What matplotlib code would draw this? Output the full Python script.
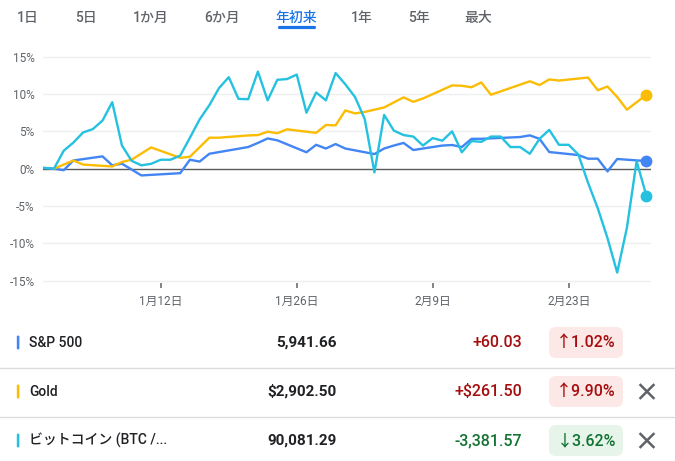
import matplotlib
matplotlib.use("Agg")
import matplotlib.pyplot as plt
from matplotlib.patches import FancyBboxPatch

# data (% change since start, x = days after Dec 31)
spx_days = [0, 1, 2, 3, 6, 7, 8, 10, 14, 15, 16, 17, 21, 22, 23, 24, 27, 28, 29, 30, 31,
            34, 35, 36, 37, 38, 41, 42, 43, 44, 45, 49, 50, 51, 52, 55, 56, 57, 58, 59, 62]
spx = [0.1, 0, -0.2, 1.1, 1.65, 0.45, 0.67, -0.9, -0.6, 1.2, 0.95, 2.0, 2.9, 3.45, 4.05, 3.8,
       2.2, 3.2, 2.7, 3.3, 2.7, 1.96, 2.7, 3.1, 3.45, 2.5, 3.1, 3.17, 2.9, 4.0, 4.0, 4.24, 4.46,
       4.0, 2.23, 1.83, 1.34, 1.34, -0.36, 1.3, 1.02]

gold_days = [1, 3, 4, 7, 8, 9, 11, 14, 15, 17, 18, 21, 22, 23, 24, 25, 28, 29, 30, 31, 32, 33,
             35, 37, 38, 39, 42, 43, 44, 45, 46, 50, 51, 52, 53, 56, 57, 58, 59, 60, 62]
gold = [0, 1.1, 0.55, 0.3, 0.9, 1.2, 2.85, 1.45, 1.6, 4.15, 4.15, 4.45, 4.5, 4.95, 4.75, 5.27,
        4.8, 5.85, 5.8, 7.8, 7.4, 7.6, 8.2, 9.55, 8.95, 9.4, 11.15, 11.1, 10.9, 11.55, 9.9,
        11.7, 11.2, 11.95, 11.8, 12.2, 10.5, 11.0, 9.6, 7.9, 9.9]

btc = [0.1, 0.0, 2.4, 3.5, 4.85, 5.3, 6.45, 8.9, 3.1, 1.05, 0.45, 0.65, 1.2, 1.2, 1.75, 4.15,
       6.6, 8.5, 10.8, 12.25, 9.35, 9.3, 13.0, 9.15, 11.9, 12.0, 12.6, 7.5, 10.2, 9.15, 12.8,
       11.3, 9.6, 6.65, -0.5, 7.2, 5.1, 4.5, 4.3, 3.1, 4.1, 3.75, 5.0, 2.2, 3.7, 3.6, 4.3, 4.3,
       2.9, 2.9, 2.0, 4.0, 5.2, 3.2, 3.2, 1.9, -1.9, -5.3, -9.3, -13.9, -7.9, 1.0, -3.6]
btc_days = list(range(len(btc)))

tick_days = [12, 26, 40, 54]
tick_labels = ["1月12日", "1月26日", "2月9日", "2月23日"]
yticks = [-15, -10, -5, 0, 5, 10, 15]

tabs = ["1日", "5日", "1か月", "6か月", "年初来", "1年", "5年", "最大"]
tab_x = [28, 85.5, 150.5, 222, 296, 361.5, 419, 478]

names = ["S&P 500", "Gold", "ビットコイン (BTC /..."]
prices = ["5,941.66", "$2,902.50", "90,081.29"]
changes = ["+60.03", "+$261.50", "-3,381.57"]
pcts = ["↑1.02%", "↑9.90%", "↓3.62%"]
up = [True, True, False]
closable = [False, True, True]

c_spx, c_gold, c_btc = "#4285F4", "#FBBC04", "#24C1E0"
colors = [c_spx, c_gold, c_btc]
gray = "#5f6368"
fam = ["Roboto", "Noto Sans CJK JP", "DejaVu Sans"]

W, H = 675, 461
fig = plt.figure(figsize=(W / 100, H / 100), dpi=100)
fig.patch.set_facecolor("white")

# overlay in pixel coords for tabs and table
bg = fig.add_axes([0, 0, 1, 1])
bg.set_xlim(0, W)
bg.set_ylim(H, 0)
bg.axis("off")

# chart
ax = fig.add_axes([43 / W, 1 - 283 / H, (651 - 43) / W, (283 - 54.4) / H])
ax.set_xlim(-0.13, 62.48)
ax.set_ylim(-15.3, 15.3)
for s in ax.spines.values():
    s.set_visible(False)
for y in yticks:
    if y != 0:
        ax.axhline(y, color="#eeeff1", lw=1, zorder=0)
ax.axhline(0, color="#5a5a5a", lw=1, zorder=1)

ax.plot(spx_days, spx, color=c_spx, lw=1.7, zorder=3)
ax.plot(gold_days, gold, color=c_gold, lw=1.7, zorder=4)
ax.plot(btc_days, btc, color=c_btc, lw=1.7, zorder=5)
ax.plot(spx_days[-1], spx[-1], "o", color=c_spx, ms=7.5, zorder=6, clip_on=False)
ax.plot(gold_days[-1], gold[-1], "o", color=c_gold, ms=7.5, zorder=6, clip_on=False)
ax.plot(btc_days[-1], btc[-1], "o", color=c_btc, ms=7.5, zorder=6, clip_on=False)

ax.set_yticks(yticks)
ax.set_yticklabels([f"{v}%" for v in yticks], family=fam, fontsize=8.5, color=gray)
ax.tick_params(axis="y", length=0, pad=6)
ax.set_xticks(tick_days)
ax.set_xticklabels(tick_labels, family=fam, fontsize=8.5, color=gray)
ax.tick_params(axis="x", direction="out", length=3.8, width=1.1, color=gray, pad=5)

# tabs
for t, x in zip(tabs, tab_x):
    col = "#1a73e8" if t == "年初来" else gray
    bg.text(x, 18, t, family=fam, fontsize=10, color=col, ha="center", va="center",
            fontweight="medium")
bg.plot([278.5, 313.5], [27, 27], color="#1a73e8", lw=2.3, solid_capstyle="round")

# table
row_y = [342.5, 391.5, 440.5]
for y in [367.5, 416.5]:
    bg.plot([0, W], [y, y], color="#dadce0", lw=1)
for i, y in enumerate(row_y):
    bg.add_patch(FancyBboxPatch((16.8, y - 7), 2.6, 14, boxstyle="round,pad=0,rounding_size=1.3",
                                fc=colors[i], ec="none"))
    bg.text(29, y, names[i], family=fam, fontsize=10, color="#202124", ha="left", va="center",
            fontweight="medium")
    bg.text(337, y, prices[i], family=fam, fontsize=11, color="#202124", ha="right", va="center",
            fontweight="semibold")
    fg = "#a50e0e" if up[i] else "#137333"
    pill = "#fce8e6" if up[i] else "#e6f4ea"
    bg.text(522, y, changes[i], family=fam, fontsize=11.5, color=fg, ha="right", va="center",
            fontweight="medium")
    bg.add_patch(FancyBboxPatch((549, y - 15.5), 74, 31, boxstyle="round,pad=0,rounding_size=7",
                                fc=pill, ec="none"))
    bg.text(586, y, pcts[i], family=fam, fontsize=11.5, color=fg, ha="center", va="center",
            fontweight="medium")
    if closable[i]:
        d = 6.5
        bg.plot([647 - d, 647 + d], [y - d, y + d], color=gray, lw=1.8)
        bg.plot([647 - d, 647 + d], [y + d, y - d], color=gray, lw=1.8)

fig.savefig("out.png", dpi=100)
